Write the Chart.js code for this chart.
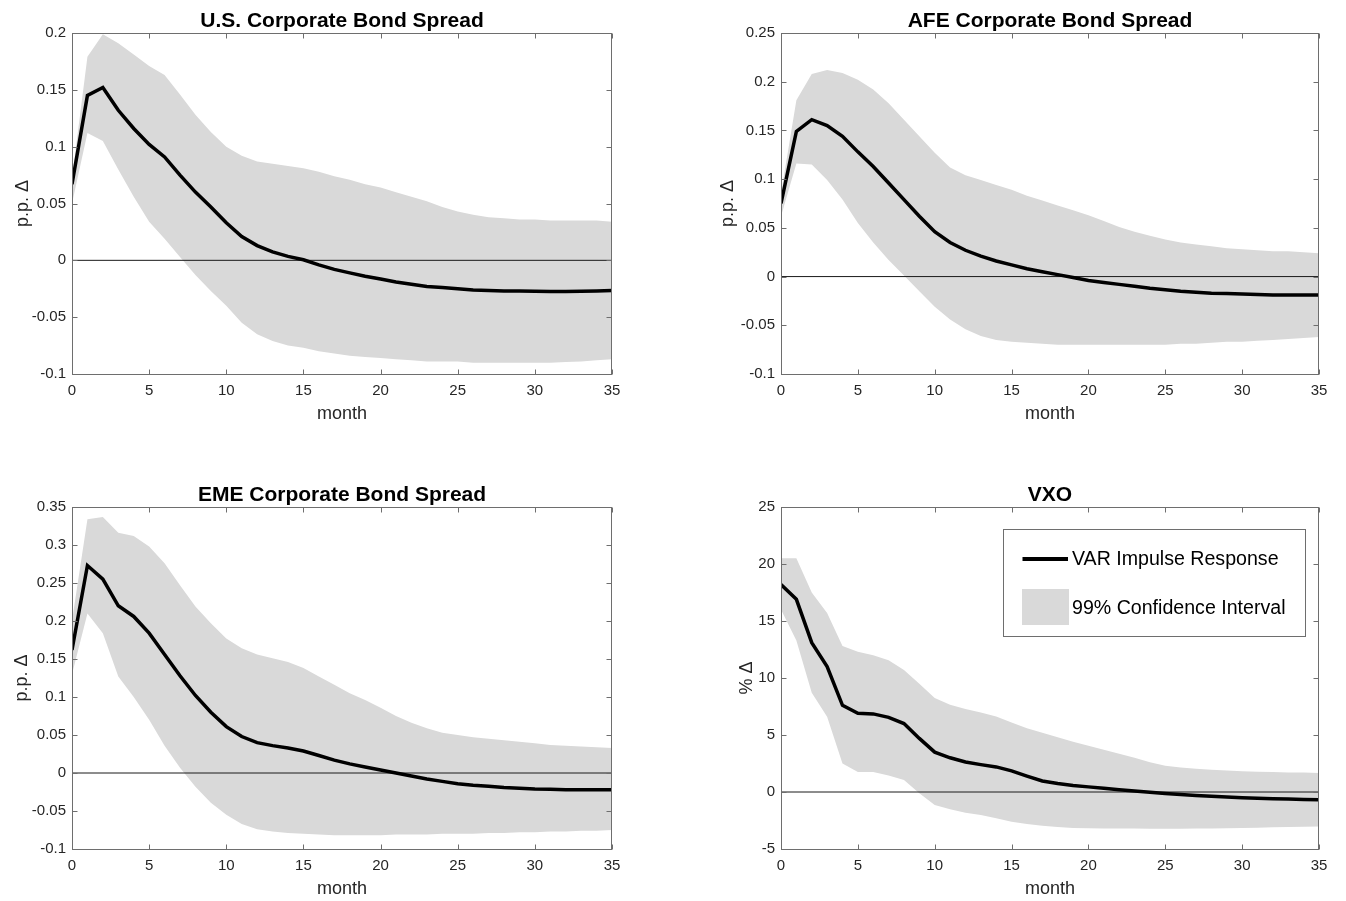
<!DOCTYPE html>
<html>
<head>
<meta charset="utf-8">
<title>VAR impulse responses</title>
<script src="https://cdn.jsdelivr.net/npm/chart.js@4.4.1/dist/chart.umd.min.js"></script>
<style>
  body { margin: 0; background: #fff; }
  #wrap { position: relative; width: 1346px; height: 901px; }
  canvas { position: absolute; }
</style>
</head>
<body>
<div id="wrap">
  <canvas id="usChart" width="673" height="450" style="left:0;top:0"></canvas>
  <canvas id="afeChart" width="673" height="450" style="left:673px;top:0"></canvas>
  <canvas id="emeChart" width="673" height="451" style="left:0;top:450px"></canvas>
  <canvas id="vxoChart" width="673" height="451" style="left:673px;top:450px"></canvas>
</div>
<script>
// data (months 0..35)
var months = [0,1,2,3,4,5,6,7,8,9,10,11,12,13,14,15,16,17,18,19,20,21,22,23,24,25,26,27,28,29,30,31,32,33,34,35];
var monthTicks = [0,5,10,15,20,25,30,35];

var usLine  = [0.067,0.145,0.152,0.132,0.116,0.102,0.091,0.075,0.060,0.047,0.033,0.021,0.013,0.0075,0.0035,0.0005,-0.004,-0.008,-0.011,-0.014,-0.0165,-0.019,-0.021,-0.023,-0.024,-0.025,-0.026,-0.0265,-0.027,-0.027,-0.0272,-0.0274,-0.0274,-0.0272,-0.027,-0.0265];
var usUpper = [0.072,0.179,0.199,0.191,0.181,0.171,0.163,0.146,0.128,0.113,0.100,0.092,0.087,0.085,0.083,0.081,0.078,0.074,0.071,0.067,0.064,0.060,0.056,0.052,0.047,0.043,0.040,0.038,0.037,0.036,0.036,0.035,0.035,0.035,0.035,0.034];
var usLower = [0.050,0.112,0.105,0.080,0.056,0.034,0.019,0.003,-0.013,-0.027,-0.040,-0.055,-0.065,-0.071,-0.075,-0.077,-0.080,-0.082,-0.084,-0.085,-0.086,-0.087,-0.088,-0.089,-0.089,-0.089,-0.090,-0.090,-0.090,-0.090,-0.090,-0.090,-0.0895,-0.089,-0.088,-0.087];
var usTicks = [-0.1,-0.05,0,0.05,0.1,0.15,0.2];

var afeLine  = [0.075,0.149,0.161,0.155,0.144,0.128,0.113,0.096,0.079,0.062,0.046,0.035,0.027,0.021,0.016,0.012,0.008,0.005,0.002,-0.001,-0.004,-0.006,-0.008,-0.010,-0.012,-0.0135,-0.015,-0.016,-0.017,-0.0175,-0.018,-0.0185,-0.019,-0.019,-0.019,-0.019];
var afeUpper = [0.085,0.181,0.208,0.212,0.209,0.202,0.192,0.178,0.161,0.144,0.127,0.112,0.104,0.099,0.094,0.089,0.083,0.078,0.073,0.068,0.063,0.057,0.051,0.046,0.042,0.038,0.035,0.033,0.031,0.029,0.028,0.027,0.026,0.026,0.025,0.024];
var afeLower = [0.062,0.116,0.115,0.099,0.079,0.055,0.035,0.017,0.001,-0.015,-0.031,-0.044,-0.054,-0.061,-0.065,-0.067,-0.068,-0.069,-0.070,-0.070,-0.070,-0.070,-0.070,-0.070,-0.070,-0.070,-0.069,-0.069,-0.068,-0.067,-0.067,-0.066,-0.065,-0.064,-0.063,-0.062];
var afeTicks = [-0.1,-0.05,0,0.05,0.1,0.15,0.2,0.25];

var emeLine  = [0.162,0.273,0.255,0.220,0.206,0.184,0.156,0.128,0.102,0.080,0.061,0.048,0.040,0.036,0.033,0.029,0.023,0.017,0.012,0.008,0.004,0.000,-0.004,-0.008,-0.011,-0.014,-0.016,-0.0175,-0.019,-0.020,-0.021,-0.0215,-0.022,-0.022,-0.022,-0.022];
var emeUpper = [0.200,0.334,0.337,0.316,0.312,0.298,0.276,0.247,0.219,0.197,0.177,0.164,0.156,0.151,0.146,0.138,0.127,0.116,0.105,0.096,0.086,0.075,0.066,0.059,0.053,0.050,0.047,0.045,0.043,0.041,0.039,0.037,0.036,0.035,0.034,0.033];
var emeLower = [0.130,0.210,0.184,0.127,0.100,0.070,0.036,0.007,-0.018,-0.039,-0.055,-0.067,-0.074,-0.077,-0.079,-0.080,-0.081,-0.082,-0.082,-0.082,-0.082,-0.081,-0.081,-0.081,-0.080,-0.080,-0.080,-0.079,-0.079,-0.078,-0.078,-0.077,-0.077,-0.076,-0.076,-0.075];
var emeTicks = [-0.1,-0.05,0,0.05,0.1,0.15,0.2,0.25,0.3,0.35];

var vxoLine  = [18.2,16.9,13.1,11.0,7.6,6.9,6.85,6.55,6.0,4.7,3.5,3.0,2.63,2.4,2.2,1.85,1.4,0.97,0.75,0.58,0.45,0.32,0.2,0.08,-0.03,-0.13,-0.22,-0.3,-0.37,-0.43,-0.5,-0.55,-0.59,-0.62,-0.65,-0.67];
var vxoUpper = [20.5,20.5,17.5,15.7,12.8,12.3,12.0,11.55,10.7,9.5,8.25,7.65,7.28,6.98,6.63,6.1,5.6,5.2,4.8,4.4,4.05,3.7,3.35,3.0,2.6,2.3,2.15,2.05,1.95,1.88,1.82,1.78,1.75,1.72,1.7,1.67];
var vxoLower = [16.0,13.3,8.7,6.6,2.5,1.75,1.75,1.45,1.05,-0.1,-1.15,-1.52,-1.82,-2.02,-2.3,-2.6,-2.8,-2.97,-3.08,-3.15,-3.18,-3.2,-3.2,-3.21,-3.22,-3.22,-3.22,-3.21,-3.2,-3.18,-3.16,-3.13,-3.1,-3.07,-3.04,-3.02];
var vxoTicks = [-5,0,5,10,15,20,25];

var legendLabels = ['VAR Impulse Response', '99% Confidence Interval'];

var FONT = '"Liberation Sans", Arial, Helvetica, sans-serif';
var BAND = '#d9d9d9';
var AXIS = '#6e6e6e';
var TEXT = '#262626';
Chart.defaults.font.family = FONT;

function pts(arr) {
    return months.map(function (m, i) { return {x: m, y: arr[i]}; });
}

// box, inward ticks, title, axis labels and legend in MATLAB style
var matlabAxes = {
    id: 'matlabAxes',
    afterDraw: function (chart, args, opts) {
        var ctx = chart.ctx, a = chart.chartArea;
        var xs = chart.scales.x, ys = chart.scales.y;
        var l = Math.round(a.left) + 0.5, r = Math.round(a.right) - 0.5;
        var t = Math.round(a.top) + 0.5, b = Math.round(a.bottom) + 0.5;
        ctx.save();
        ctx.strokeStyle = AXIS;
        ctx.lineWidth = 1;
        ctx.strokeRect(l, t, r - l, b - t);
        ctx.beginPath();
        monthTicks.forEach(function (v) {
            var px = Math.round(xs.getPixelForValue(v)) + 0.5;
            ctx.moveTo(px, b); ctx.lineTo(px, b - 5);
            ctx.moveTo(px, t); ctx.lineTo(px, t + 5);
        });
        opts.yTicks.forEach(function (v) {
            var py = Math.round(ys.getPixelForValue(v)) + 0.5;
            ctx.moveTo(l, py); ctx.lineTo(l + 5, py);
            ctx.moveTo(r, py); ctx.lineTo(r - 5, py);
        });
        ctx.stroke();

        var cx = (a.left + a.right) / 2, cy = (a.top + a.bottom) / 2;
        ctx.fillStyle = '#000';
        ctx.textAlign = 'center';
        ctx.textBaseline = 'alphabetic';
        ctx.font = 'bold 21px ' + FONT;
        ctx.fillText(opts.title, cx, a.top - 6);
        ctx.fillStyle = TEXT;
        ctx.font = '18px ' + FONT;
        ctx.fillText('month', cx, a.bottom + 45);
        ctx.save();
        ctx.translate(a.left - opts.ylabelGap, cy);
        ctx.rotate(-Math.PI / 2);
        ctx.fillText(opts.ylabel, 0, 0);
        ctx.restore();

        if (opts.legend) {
            var bx = a.left + 222, by = a.top + 22;
            ctx.fillStyle = '#fff';
            ctx.fillRect(bx + 0.5, by + 0.5, 302, 107);
            ctx.strokeStyle = AXIS;
            ctx.strokeRect(bx + 0.5, by + 0.5, 302, 107);
            ctx.strokeStyle = '#000';
            ctx.lineWidth = 4;
            ctx.beginPath();
            ctx.moveTo(bx + 19.5, by + 30);
            ctx.lineTo(bx + 65, by + 30);
            ctx.stroke();
            ctx.fillStyle = BAND;
            ctx.fillRect(bx + 19, by + 60, 47, 36);
            ctx.fillStyle = '#000';
            ctx.font = '19.6px ' + FONT;
            ctx.textAlign = 'left';
            ctx.textBaseline = 'middle';
            ctx.fillText(legendLabels[0], bx + 69, by + 31);
            ctx.fillText(legendLabels[1], bx + 69, by + 80);
        }
        ctx.restore();
    }
};

function makePanel(id, p) {
    var canvas = document.getElementById(id);
    var W = canvas.width, H = canvas.height;
    return new Chart(canvas, {
        type: 'line',
        data: {
            datasets: [
                {data: pts(p.line), borderColor: '#000', borderWidth: 3.5, pointRadius: 0, tension: 0, fill: false, order: 0},
                {data: [{x: 0, y: 0}, {x: 35, y: 0}], borderColor: '#1a1a1a', borderWidth: 1, pointRadius: 0, fill: false, order: 1},
                {data: pts(p.upper), borderWidth: 0, borderColor: BAND, backgroundColor: BAND, pointRadius: 0, tension: 0, fill: '+1', order: 2},
                {data: pts(p.lower), borderWidth: 0, borderColor: BAND, backgroundColor: BAND, pointRadius: 0, tension: 0, fill: false, order: 3}
            ]
        },
        options: {
            responsive: false,
            animation: false,
            devicePixelRatio: 1,
            layout: {padding: {left: 0, top: p.area[1], right: W - p.area[2], bottom: 0}},
            plugins: {
                legend: {display: false},
                tooltip: {enabled: false},
                matlabAxes: {title: p.title, ylabel: p.ylabel, ylabelGap: p.ylabelGap, yTicks: p.yTicks, legend: !!p.legend}
            },
            scales: {
                x: {
                    type: 'linear', min: 0, max: 35,
                    grid: {display: false, drawTicks: false},
                    border: {display: false},
                    ticks: {padding: 8, color: TEXT, font: {size: 15}, maxRotation: 0, autoSkip: false},
                    afterBuildTicks: function (s) { s.ticks = monthTicks.map(function (v) { return {value: v}; }); },
                    afterFit: function (s) { s.height = H - p.area[3]; }
                },
                y: {
                    type: 'linear', min: p.yTicks[0], max: p.yTicks[p.yTicks.length - 1],
                    grid: {display: false, drawTicks: false},
                    border: {display: false},
                    ticks: {padding: 6, color: TEXT, font: {size: 15}, autoSkip: false,
                        callback: function (v) { return String(+v.toFixed(3)); }},
                    afterBuildTicks: function (s) { s.ticks = p.yTicks.map(function (v) { return {value: v}; }); },
                    afterFit: function (s) { s.width = p.area[0]; }
                }
            }
        },
        plugins: [matlabAxes]
    });
}

// area = [left, top, right, bottom] of the plot box inside each canvas
makePanel('usChart', {title: 'U.S. Corporate Bond Spread', ylabel: 'p.p. \u0394', ylabelGap: 44,
    line: usLine, upper: usUpper, lower: usLower, yTicks: usTicks, area: [72, 33, 612, 374]});
makePanel('afeChart', {title: 'AFE Corporate Bond Spread', ylabel: 'p.p. \u0394', ylabelGap: 48,
    line: afeLine, upper: afeUpper, lower: afeLower, yTicks: afeTicks, area: [108, 33, 646, 374]});
makePanel('emeChart', {title: 'EME Corporate Bond Spread', ylabel: 'p.p. \u0394', ylabelGap: 45,
    line: emeLine, upper: emeUpper, lower: emeLower, yTicks: emeTicks, area: [72, 57, 612, 399]});
makePanel('vxoChart', {title: 'VXO', ylabel: '% \u0394', ylabelGap: 29,
    line: vxoLine, upper: vxoUpper, lower: vxoLower, yTicks: vxoTicks, area: [108, 57, 646, 399], legend: true});
</script>
</body>
</html>
